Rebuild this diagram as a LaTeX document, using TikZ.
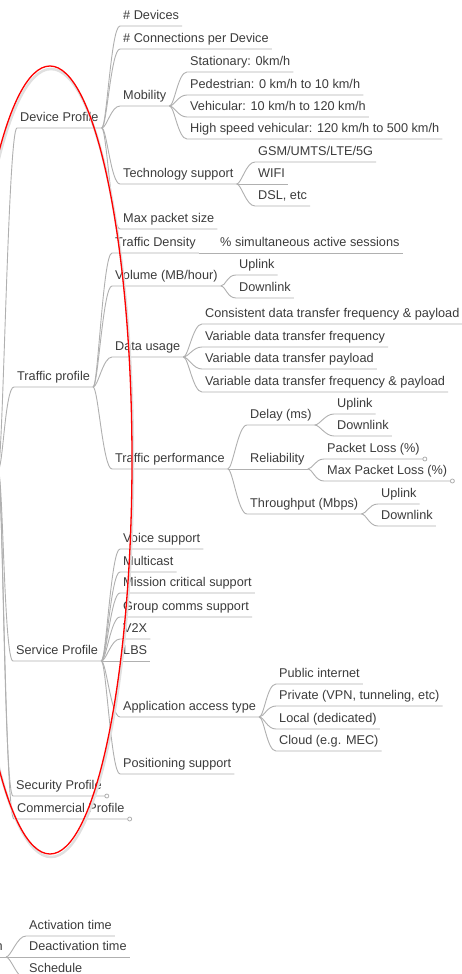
\documentclass[tikz,border=0pt]{standalone}
\usepackage{fontspec}
\setmainfont{Liberation Sans}
\definecolor{linkgray}{HTML}{B0B0B0}
\definecolor{textgray}{HTML}{3C3C3C}
\tikzset{
  topic/.style={anchor=south west, inner xsep=3pt, inner ysep=3pt,
    text height=9.5pt, text depth=3pt, text=textgray,
    font=\fontsize{12.7}{14}\selectfont},
  link/.style={draw=linkgray, line width=0.9pt},
  folded/.style={draw=linkgray, line width=0.8pt, fill=white}
}
% curved connector from a parent end to a child, plus the child's underline
\newcommand{\branch}[2]{\draw[link] (#1) .. controls +(5,0) and +(-9,0) .. (#2.south west) -- (#2.south east);}
% child on the same row as its parent
\newcommand{\samerow}[2]{\draw[link] (#1) -- (#2.south east);}
\newcommand{\fold}[1]{\draw[folded] ([xshift=2pt]#1.south east) circle (2pt);}
\begin{document}
\begin{tikzpicture}[x=1pt,y=-1pt]
  \fill[white] (0,0) rectangle (462,974);
  \useasboundingbox (0,0) rectangle (462,974);

  \coordinate (root) at (-2,470);
  \node[topic] (dp) at (17,128) {Device Profile};
  \node[topic] (tp) at (14,387) {Traffic profile};
  \node[topic] (sp) at (13,661) {Service Profile};
  \node[topic] (sec) at (13,796) {Security Profile};
  \node[topic] (com) at (14,819) {Commercial Profile};

  % device profile
  \node[topic] (ndev) at (120,26) {\# Devices};
  \node[topic] (ncon) at (120,49) {\# Connections per Device};
  \node[topic] (mob) at (120,106) {Mobility};
  \node[topic] (tech) at (120,184) {Technology support};
  \node[topic] (mps) at (120,229) {Max packet size};
  \node[topic] (stat) at (187,72) {Stationary: 0km/h};
  \node[topic] (ped) at (187,95) {Pedestrian: 0 km/h to 10 km/h};
  \node[topic] (veh) at (187,117) {Vehicular: 10 km/h to 120 km/h};
  \node[topic] (hsv) at (187,139) {High speed vehicular: 120 km/h to 500 km/h};
  \node[topic] (gsm) at (255,162) {GSM/UMTS/LTE/5G};
  \node[topic] (wifi) at (255,184) {WIFI};
  \node[topic] (dsl) at (255,206) {DSL, etc};

  % traffic profile
  \node[topic] (tden) at (112,253) {Traffic Density};
  \node[topic] (vol) at (112,286) {Volume (MB/hour)};
  \node[topic] (dat) at (112,357) {Data usage};
  \node[topic] (perf) at (112,469) {Traffic performance};
  \node[topic] (sim) at (217,253) {\% simultaneous active sessions};
  \node[topic] (vup) at (236,275) {Uplink};
  \node[topic] (vdown) at (236,298) {Downlink};
  \node[topic] (dcon) at (202,324) {Consistent data transfer frequency \& payload};
  \node[topic] (dfreq) at (202,347) {Variable data transfer frequency};
  \node[topic] (dpay) at (202,369) {Variable data transfer payload};
  \node[topic] (dboth) at (202,392) {Variable data transfer frequency \& payload};
  \node[topic] (delay) at (247,425) {Delay (ms)};
  \node[topic] (rel) at (247,469) {Reliability};
  \node[topic] (thr) at (247,514) {Throughput (Mbps)};
  \node[topic] (dup) at (334,414) {Uplink};
  \node[topic] (ddown) at (334,436) {Downlink};
  \node[topic] (pl) at (324,459) {Packet Loss (\%)};
  \node[topic] (mpl) at (324,481) {Max Packet Loss (\%)};
  \node[topic] (tup) at (378,504) {Uplink};
  \node[topic] (tdown) at (378,526) {Downlink};

  % service profile
  \node[topic] (voice) at (120,549) {Voice support};
  \node[topic] (multi) at (120,572) {Multicast};
  \node[topic] (mcs) at (120,593) {Mission critical support};
  \node[topic] (grp) at (120,617) {Group comms support};
  \node[topic] (vtx) at (120,639) {V2X};
  \node[topic] (lbs) at (120,661) {LBS};
  \node[topic] (app) at (120,717) {Application access type};
  \node[topic] (pos) at (120,774) {Positioning support};
  \node[topic] (pub) at (276,684) {Public internet};
  \node[topic] (priv) at (276,706) {Private (VPN, tunneling, etc)};
  \node[topic] (loc) at (276,729) {Local (dedicated)};
  \node[topic] (cloud) at (276,751) {Cloud (e.g. MEC)};

  % lower map, cut at the left edge
  \node[topic, anchor=south east] (cfg) at (6,957) {n};
  \node[topic] (act) at (26,936) {Activation time};
  \node[topic] (deact) at (26,957) {Deactivation time};
  \node[topic] (sched) at (26,979) {Schedule};

  \branch{root}{dp} \branch{root}{tp} \branch{root}{sp}
  \branch{root}{sec} \branch{root}{com}
  \branch{dp.south east}{ndev} \branch{dp.south east}{ncon}
  \branch{dp.south east}{mob} \branch{dp.south east}{tech}
  \branch{dp.south east}{mps}
  \branch{mob.south east}{stat} \branch{mob.south east}{ped}
  \branch{mob.south east}{veh} \branch{mob.south east}{hsv}
  \branch{tech.south east}{gsm} \samerow{tech.south east}{wifi}
  \branch{tech.south east}{dsl}
  \branch{tp.south east}{tden} \branch{tp.south east}{vol}
  \branch{tp.south east}{dat} \branch{tp.south east}{perf}
  \samerow{tden.south east}{sim}
  \branch{vol.south east}{vup} \branch{vol.south east}{vdown}
  \branch{dat.south east}{dcon} \branch{dat.south east}{dfreq}
  \branch{dat.south east}{dpay} \branch{dat.south east}{dboth}
  \branch{perf.south east}{delay} \samerow{perf.south east}{rel}
  \branch{perf.south east}{thr}
  \branch{delay.south east}{dup} \branch{delay.south east}{ddown}
  \branch{rel.south east}{pl} \branch{rel.south east}{mpl}
  \branch{thr.south east}{tup} \branch{thr.south east}{tdown}
  \branch{sp.south east}{voice} \branch{sp.south east}{multi}
  \branch{sp.south east}{mcs} \branch{sp.south east}{grp}
  \branch{sp.south east}{vtx} \samerow{sp.south east}{lbs}
  \branch{sp.south east}{app} \branch{sp.south east}{pos}
  \branch{app.south east}{pub} \branch{app.south east}{priv}
  \branch{app.south east}{loc} \branch{app.south east}{cloud}
  \draw[link] ([xshift=-20pt]cfg.south west) -- (cfg.south east);
  \branch{cfg.south east}{act} \samerow{cfg.south east}{deact}
  \branch{cfg.south east}{sched}
  \fold{pl} \fold{mpl} \fold{sec} \fold{com}

  % highlight
  \draw[black!12, line width=2.5pt] (51,463) ellipse [x radius=82, y radius=394];
  \draw[red, line width=1.3pt] (50,460) ellipse [x radius=82, y radius=394];
\end{tikzpicture}
\end{document}
